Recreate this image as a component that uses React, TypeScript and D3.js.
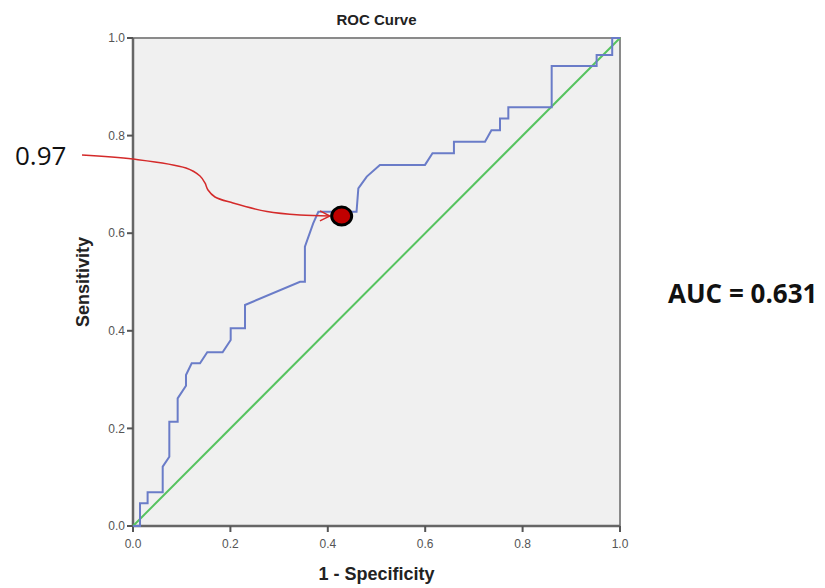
import React from "react";
import * as d3 from "d3";

const fpr = [0, 0.0144, 0.0144, 0.030, 0.030, 0.061, 0.061, 0.0746, 0.0746, 0.0917, 0.0917, 0.1088, 0.1088, 0.1205, 0.1376, 0.1525, 0.184, 0.2006, 0.2006, 0.23, 0.23, 0.343, 0.353, 0.353, 0.370, 0.3806, 0.459, 0.4627, 0.48, 0.507, 0.5996, 0.615, 0.659, 0.659, 0.7228, 0.736, 0.7536, 0.7536, 0.7707, 0.7707, 0.8597, 0.8597, 0.952, 0.952, 0.984, 0.984, 1];
const tpr = [0, 0, 0.0465, 0.0465, 0.069, 0.069, 0.1216, 0.142, 0.2137, 0.2137, 0.2616, 0.2875, 0.3094, 0.3334, 0.3334, 0.356, 0.356, 0.381, 0.405, 0.405, 0.4529, 0.5006, 0.5006, 0.5723, 0.620, 0.644, 0.644, 0.692, 0.716, 0.740, 0.740, 0.764, 0.764, 0.7875, 0.7875, 0.811, 0.811, 0.835, 0.835, 0.858, 0.858, 0.9426, 0.9426, 0.965, 0.965, 1.0, 1];
const refLine = [0, 1];
const ticks = [0, 0.2, 0.4, 0.6, 0.8, 1.0];
const cutoffPoint = [0.4285, 0.635];
const cutoffLabel = "0.97";
const aucLabel = "AUC = 0.631";
const arrowX = [-0.1047, 0, 0.1088, 0.1376, 0.1478, 0.154, 0.1684, 0.2053, 0.2752, 0.3429, 0.4045];
const arrowY = [0.7602, 0.752, 0.7336, 0.7172, 0.7029, 0.6885, 0.6742, 0.6619, 0.6445, 0.6373, 0.6352];

export default function App() {
  const W = 825, H = 588;
  const x = d3.scaleLinear().domain([0, 1]).range([133, 620]);
  const y = d3.scaleLinear().domain([0, 1]).range([526, 38]);
  const line = d3.line<[number, number]>().x(d => x(d[0])).y(d => y(d[1]));
  const roc = line(fpr.map((v, i) => [v, tpr[i]] as [number, number])) || "";
  const diag = line(refLine.map(v => [v, v] as [number, number])) || "";
  const arrowLine = d3.line<[number, number]>().x(d => x(d[0])).y(d => y(d[1])).curve(d3.curveCatmullRom);
  const arrow = arrowLine(arrowX.map((v, i) => [v, arrowY[i]] as [number, number])) || "";
  const font = "'Liberation Sans', Arial, sans-serif";
  return (
    <svg width={W} height={H} style={{ position: "absolute", left: 0, top: 0, background: "#fff" }}>
      <defs>
        <marker id="ah" viewBox="0 0 12 12" refX="11" refY="6" markerWidth="12" markerHeight="12" markerUnits="userSpaceOnUse" orient="auto">
          <path d="M1,1 L11,6 L1,11" fill="none" stroke="#d42a2a" strokeWidth={1.5} />
        </marker>
      </defs>
      <rect x={x(0)} y={y(1)} width={x(1) - x(0)} height={y(0) - y(1)} fill="#f0f0f0" stroke="#8a8a8a" strokeWidth={2} />
      <line x1={x(0)} x2={x(0)} y1={y(1)} y2={y(0)} stroke="#666" strokeWidth={2.5} />
      <line x1={x(0)} x2={x(1)} y1={y(0)} y2={y(0)} stroke="#666" strokeWidth={2.5} />
      {ticks.map(t => (
        <g key={"y" + t}>
          <line x1={x(0) - 6} x2={x(0)} y1={y(t)} y2={y(t)} stroke="#555" strokeWidth={2} />
          <text x={x(0) - 8} y={y(t)} dy="0.35em" textAnchor="end" fontFamily={font} fontSize={12} fill="#555">{t.toFixed(1)}</text>
        </g>
      ))}
      {ticks.map(t => (
        <g key={"x" + t}>
          <line x1={x(t)} x2={x(t)} y1={y(0)} y2={y(0) + 6} stroke="#555" strokeWidth={2} />
          <text x={x(t)} y={y(0) + 22} textAnchor="middle" fontFamily={font} fontSize={12} fill="#555">{t.toFixed(1)}</text>
        </g>
      ))}
      <path d={diag} fill="none" stroke="#56c35f" strokeWidth={2} />
      <path d={roc} fill="none" stroke="#6a7cc8" strokeWidth={2} />
      <path d={arrow} fill="none" stroke="#d42a2a" strokeWidth={1.5} markerEnd="url(#ah)" />
      <ellipse cx={x(cutoffPoint[0])} cy={y(cutoffPoint[1])} rx={10} ry={9} fill="#c00000" stroke="#000" strokeWidth={3} />
      <text x={(x(0) + x(1)) / 2} y={25} textAnchor="middle" fontFamily={font} fontWeight="bold" fontSize={15} fill="#222">ROC Curve</text>
      <text x={(x(0) + x(1)) / 2} y={580} textAnchor="middle" fontFamily={font} fontWeight="bold" fontSize={18} fill="#222">1 - Specificity</text>
      <text transform={`translate(89,${(y(0) + y(1)) / 2}) rotate(-90)`} textAnchor="middle" fontFamily={font} fontWeight="bold" fontSize={18} fill="#222">Sensitivity</text>
      <text x={15} y={165} fontFamily="'Open Sans', sans-serif" fontSize={26} fill="#111">{cutoffLabel}</text>
      <text x={668} y={303} fontFamily="'Open Sans', sans-serif" fontWeight="bold" fontSize={26} fill="#111">{aucLabel}</text>
    </svg>
  );
}
